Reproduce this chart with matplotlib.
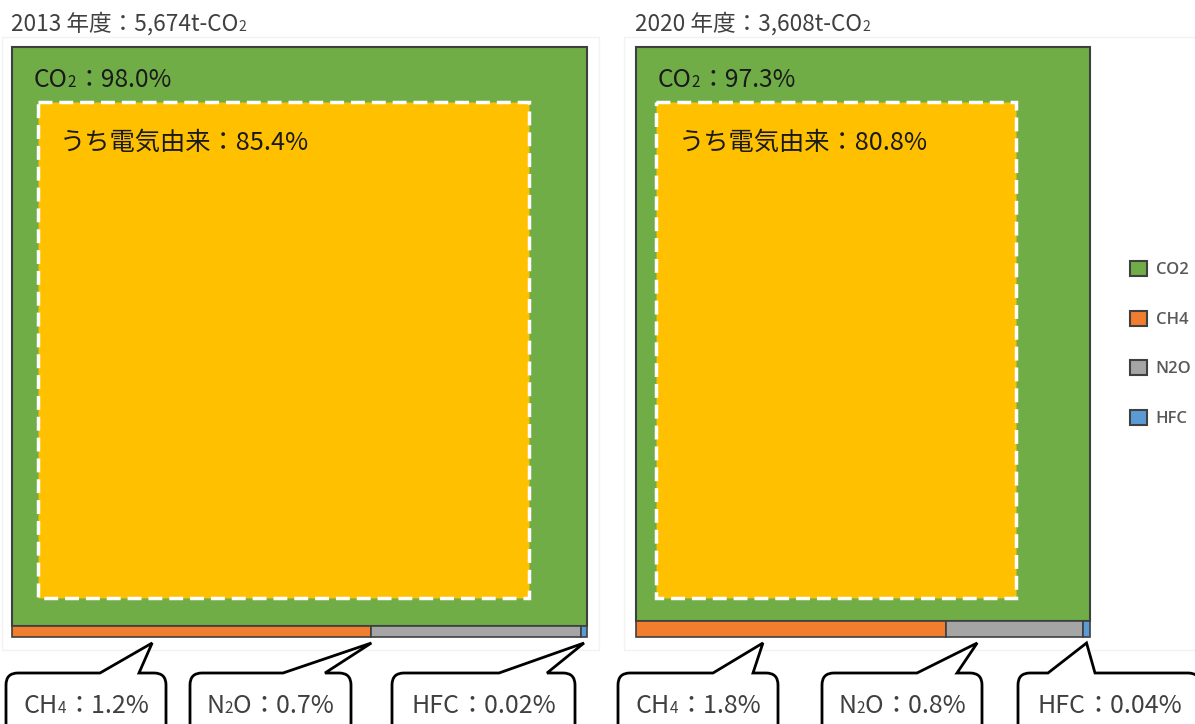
import matplotlib
matplotlib.use("Agg")
import matplotlib.pyplot as plt
from matplotlib.patches import Rectangle, PathPatch, Patch
from matplotlib.path import Path

plt.rcParams['font.family'] = ['Noto Sans CJK JP', 'DejaVu Sans']

# data
years = ['2013', '2020']
totals = ['5,674', '3,608']
gases = ['CO2', 'CH4', 'N2O', 'HFC']
shares_2013 = [98.0, 1.2, 0.7, 0.02]
shares_2020 = [97.3, 1.8, 0.8, 0.04]
labels_2013 = ['98.0%', '1.2%', '0.7%', '0.02%']
labels_2020 = ['97.3%', '1.8%', '0.8%', '0.04%']
elec_share = [85.4, 80.8]
elec_labels = ['85.4%', '80.8%']

colors = ['#70AD47', '#F07E2E', '#A5A5A5', '#5B9BD5']
edge = '#3F3F3F'

# layout (pixels)
W, H = 1195, 724
panel_x = [12, 636]
panel_w = [575, 454]
top, height = 47, 590
# callout boxes: (left, right, tail base left, tail base right, apex pos within segment)
callouts = [
    [(6, 166, 100, 139, 0.39), (190, 351, 283, 325, 0.0), (392, 575, 499, 547, 0.5)],
    [(618, 778, 713, 753, 0.41), (822, 982, 917, 957, 0.23), (1018, 1200, 1048, 1095, 0.5)],
]

fig = plt.figure(figsize=(W / 100, H / 100), dpi=100)
ax = fig.add_axes([0, 0, 1, 1])
ax.set_xlim(0, W)
ax.set_ylim(H, 0)
ax.axis('off')
rend = fig.canvas.get_renderer()


def rich(x, y, parts, size, color, center=False, z=3):
    """parts = [(texte, indice?)]"""
    texts = []
    cx = x
    for s, sub in parts:
        t = ax.text(cx, y, s, fontsize=size * 0.62 if sub else size, color=color,
                    va='baseline', ha='left', zorder=z)
        w = t.get_window_extent(renderer=rend).width
        texts.append(t)
        cx += w
    if center:
        shift = (cx - x) / 2
        for t in texts:
            t.set_x(t.get_position()[0] - shift)


def callout(l, r, bl, br, apex, ytop=673, ybot=760, rad=12):
    verts = [(bl, ytop), apex, (br, ytop), (r - rad, ytop), (r, ytop), (r, ytop + rad),
             (r, ybot), (l, ybot), (l, ytop + rad), (l, ytop), (l + rad, ytop), (bl, ytop),
             (bl, ytop)]
    codes = [Path.MOVETO, Path.LINETO, Path.LINETO, Path.LINETO, Path.CURVE3, Path.CURVE3,
             Path.LINETO, Path.LINETO, Path.LINETO, Path.CURVE3, Path.CURVE3, Path.LINETO,
             Path.CLOSEPOLY]
    ax.add_patch(PathPatch(Path(verts, codes), facecolor='white', edgecolor='black',
                           lw=2, joinstyle='miter', zorder=5))


all_shares = [shares_2013, shares_2020]
all_labels = [labels_2013, labels_2020]
sub_names = [[('CH', False), ('4', True)], [('N', False), ('2', True), ('O', False)], [('HFC', False)]]

for i in range(2):
    x0, w = panel_x[i], panel_w[i]
    sh = all_shares[i]
    tot = sum(sh)
    # cadre pâle
    ax.add_patch(Rectangle((x0 - 10 if i == 0 else x0 - 12, 37), w + 22 if i == 0 else 600, 613,
                           facecolor='white', edgecolor='#F2F2F2', lw=1, zorder=0))
    # CO2
    h_co2 = height * sh[0] / tot
    ax.add_patch(Rectangle((x0, top), w, h_co2, facecolor=colors[0], edgecolor=edge, lw=1.5, zorder=1))
    # bande du bas
    rest = sum(sh[1:])
    xs = x0
    seg = []
    for k in range(1, 4):
        sw = w * sh[k] / rest
        ax.add_patch(Rectangle((xs, top + h_co2), sw, height - h_co2, facecolor=colors[k],
                               edgecolor=edge, lw=1.2, zorder=1))
        seg.append((xs, sw))
        xs += sw
    # électricité
    ew = w * elec_share[i] / 100 - 7 * i
    ax.add_patch(Rectangle((x0 + 26 - 6 * i, top + 55), ew, 496, facecolor='#FFC000',
                           edgecolor='white', lw=2.5, ls=(0, (4, 2)), zorder=2))
    # textes
    rich(x0 - 1, 31, [(years[i] + ' 年度：' + totals[i] + 't-CO', False), ('2', True)], 16.3, '#404040')
    rich(x0 + 22, 87, [('CO', False), ('2', True), ('：' + all_labels[i][0], False)], 17.8, '#1A1A1A')
    ax.text(x0 + 48 - 5 * i, 150, 'うち電気由来：' + elec_labels[i], fontsize=18.2, color='#1A1A1A',
            va='baseline', ha='left', zorder=3)
    # bulles
    for k in range(3):
        l, r, bl, br, fr = callouts[i][k]
        sx, sw = seg[k]
        callout(l, r, bl, br, (sx + fr * sw, 643))
        cx = (l + r) / 2 if r < W else l + 92
        rich(cx, 713, sub_names[k] + [('：' + all_labels[i][k + 1], False)], 18,
             '#404040', center=True, z=6)

handles = [Patch(facecolor=c, edgecolor='#404040', lw=1.5) for c in colors]
fig.legend(handles, gases, loc='center left', bbox_to_anchor=(1115 / W, 1 - 344 / H),
           frameon=False, handlelength=1.0, handleheight=1.0, handletextpad=0.55,
           labelspacing=1.95, labelcolor='#595959',
           prop=dict(family='Open Sans', size=12, weight='semibold'))

fig.savefig('out.png', dpi=100)
